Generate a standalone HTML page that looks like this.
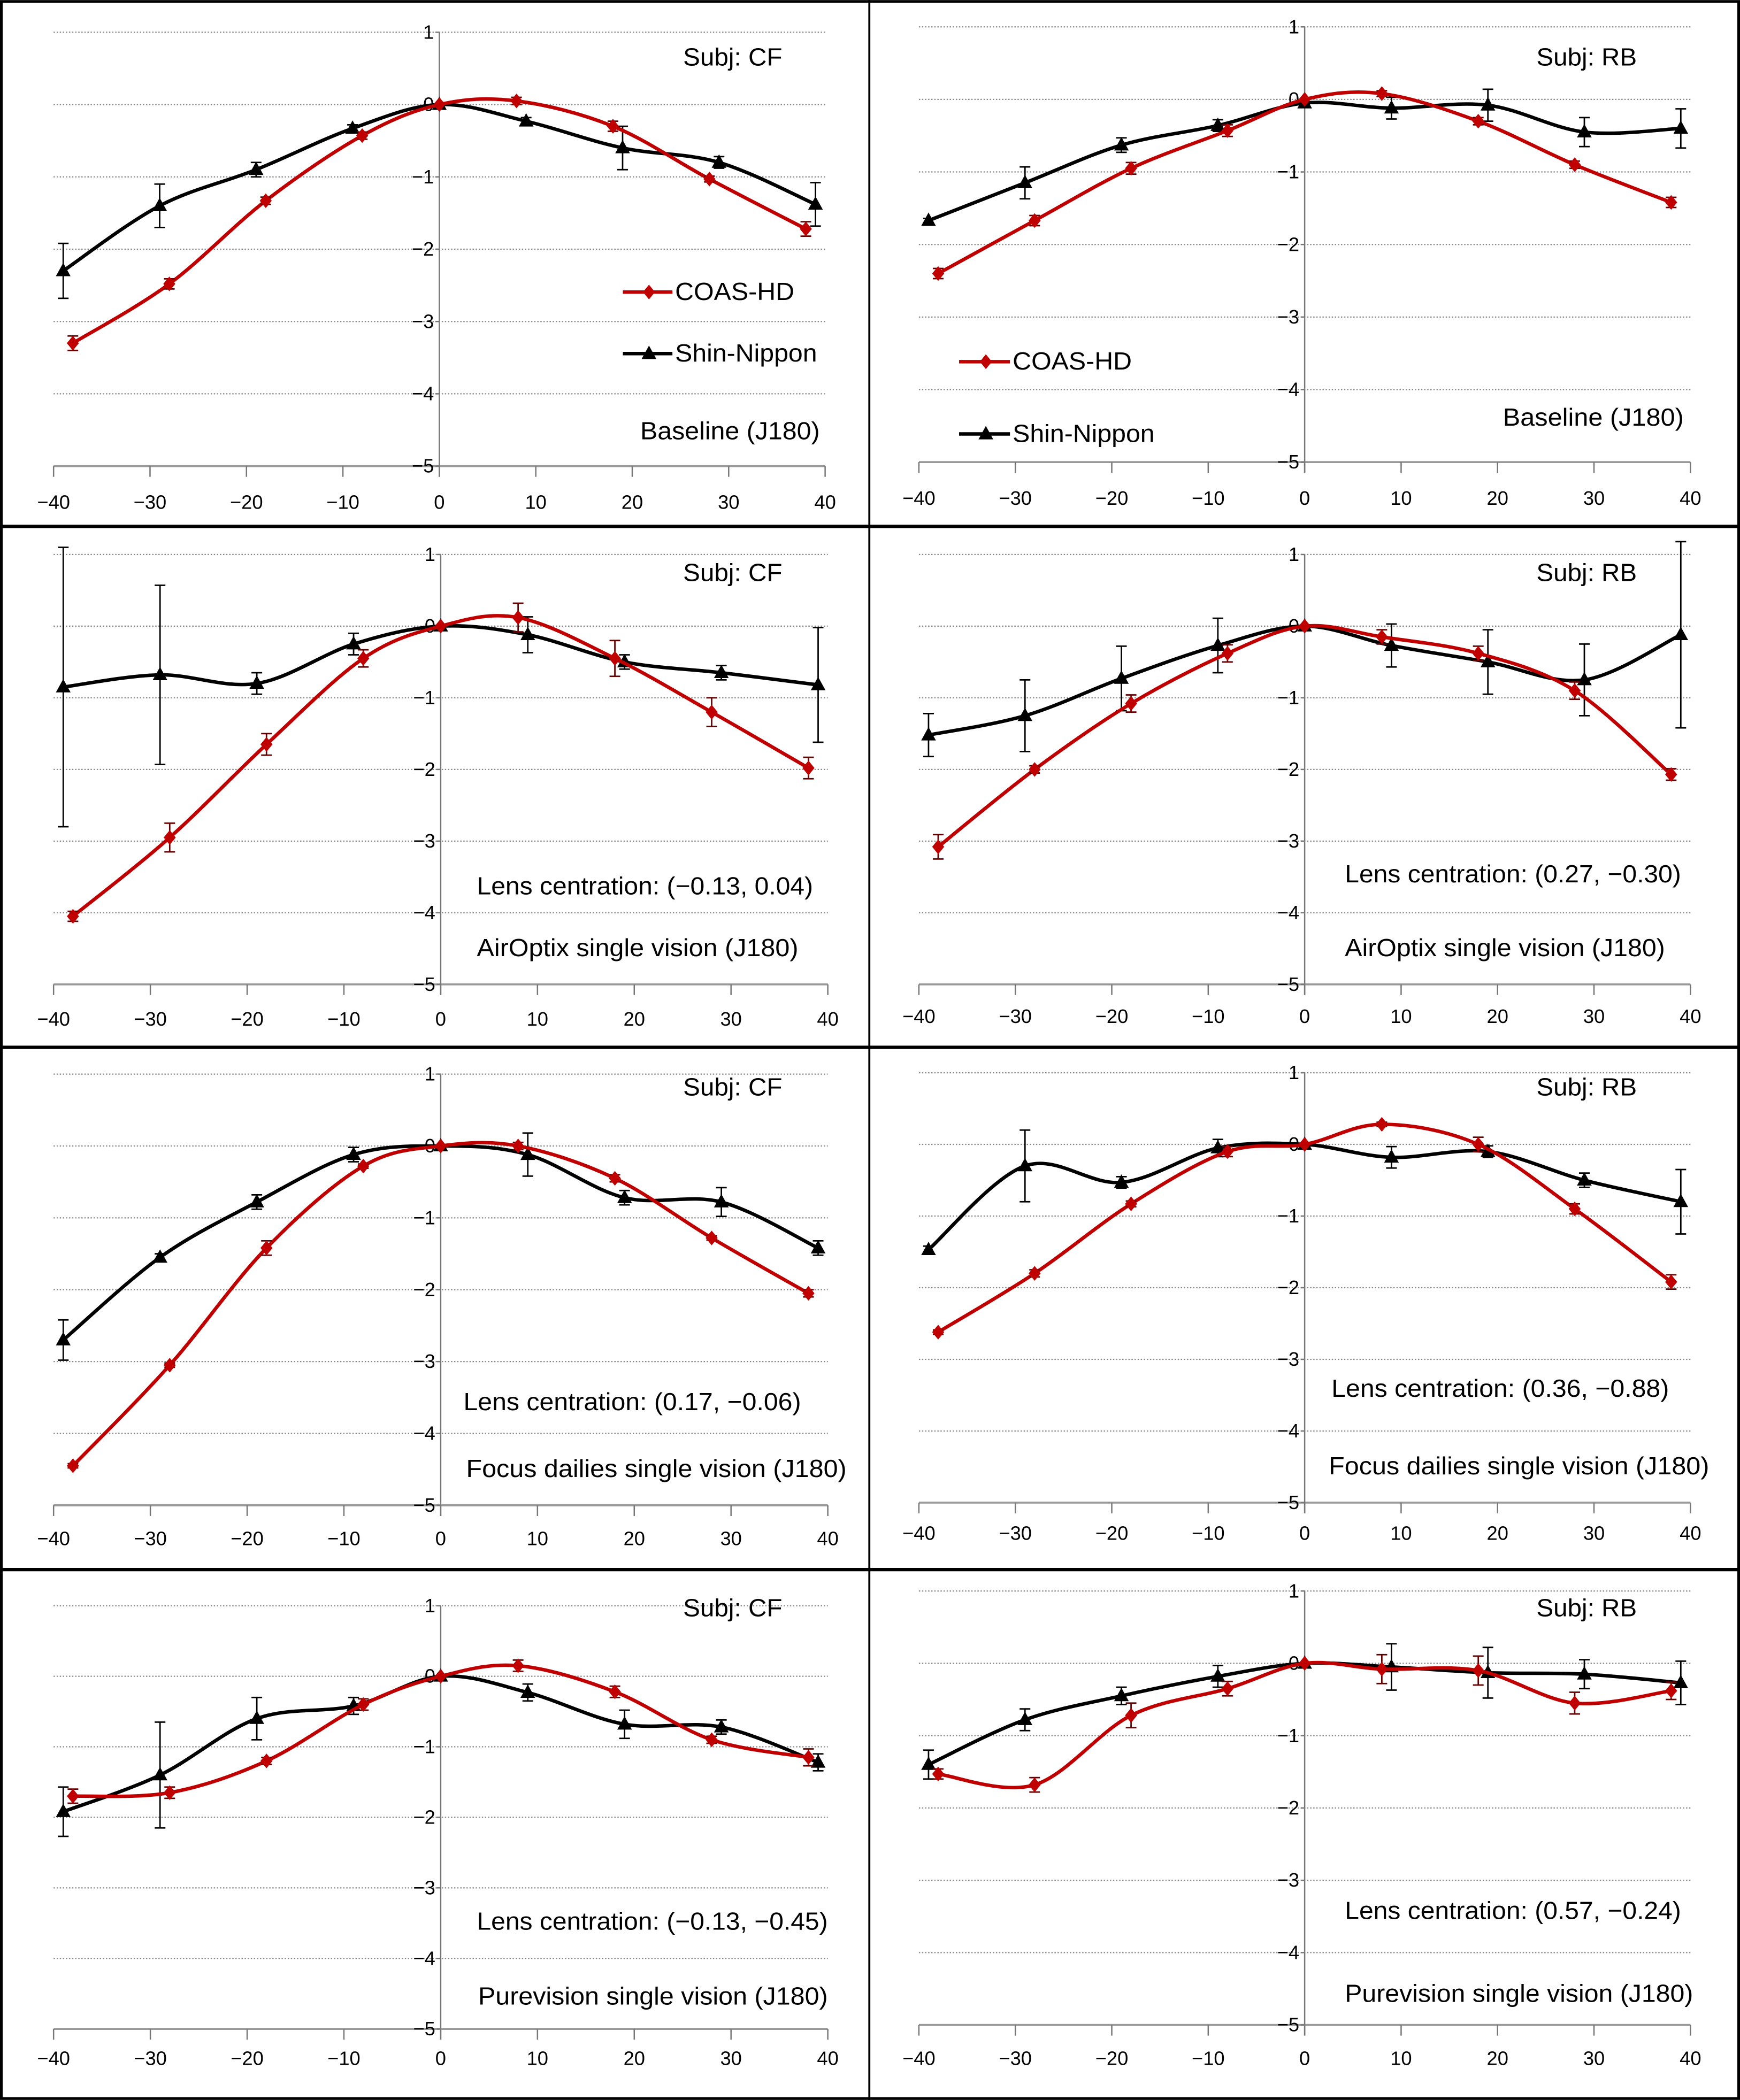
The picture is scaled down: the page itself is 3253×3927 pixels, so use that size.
<!DOCTYPE html>
<html><head><meta charset="utf-8"><style>
html,body{margin:0;padding:0;background:#fff}
svg{display:block}
text{font-family:"Liberation Sans",Arial,sans-serif;fill:#000}
</style></head><body>
<svg id="chart" width="3253" height="3927" viewBox="0 0 1299 1568" xmlns="http://www.w3.org/2000/svg">
<rect x="0" y="0" width="1299" height="1568" fill="#fff"/>
<g id="frame" stroke="#000" fill="none">
<rect x="1" y="1" width="1297" height="1566" stroke-width="2"/>
<line x1="649" y1="0" x2="649" y2="1568" stroke-width="1.5"/>
<line x1="0" y1="393" x2="1299" y2="393" stroke-width="2.5"/>
<line x1="0" y1="782" x2="1299" y2="782" stroke-width="2.5"/>
<line x1="0" y1="1172" x2="1299" y2="1172" stroke-width="2.5"/>
</g>
</svg>
<script>
const redX = [-38,-28,-18,-8,0,8,18,28,38];
const blkX = [-39,-29,-19,-9,0,9,19,29,39];
const xTicks = [-40,-30,-20,-10,0,10,20,30,40];
const yTicks = [1,0,-1,-2,-3,-4,-5];

const cfBaseRed = [-3.3,-2.48,-1.33,-0.43,0,0.05,-0.3,-1.03,-1.72];
const cfBaseRedErr = [0.1,0.07,0.05,0.05,0,0.05,0.07,0.04,0.1];
const cfBaseBlk = [-2.3,-1.4,-0.9,-0.33,0,-0.23,-0.6,-0.8,-1.38];
const cfBaseBlkErr = [0.38,0.3,0.1,0.05,0,0.05,0.3,0.08,0.3];

const rbBaseRed = [-2.4,-1.67,-0.95,-0.43,0,0.08,-0.3,-0.9,-1.42];
const rbBaseRedErr = [0.07,0.07,0.08,0.08,0,0.04,0.05,0.05,0.07];
const rbBaseBlk = [-1.67,-1.15,-0.63,-0.36,-0.05,-0.12,-0.08,-0.45,-0.4];
const rbBaseBlkErr = [0.03,0.22,0.1,0.08,0.05,0.15,0.22,0.2,0.27];

const cfAirRed = [-4.05,-2.95,-1.65,-0.45,0,0.12,-0.45,-1.2,-1.98];
const cfAirRedErr = [0.07,0.2,0.15,0.12,0,0.2,0.25,0.2,0.15];
const cfAirBlk = [-0.85,-0.68,-0.8,-0.25,0,-0.12,-0.5,-0.65,-0.82];
const cfAirBlkErr = [1.95,1.25,0.15,0.15,0,0.25,0.1,0.1,0.8];

const rbAirRed = [-3.08,-2.0,-1.08,-0.38,0,-0.15,-0.38,-0.9,-2.07];
const rbAirRedErr = [0.17,0.05,0.12,0.12,0,0.1,0.1,0.12,0.08];
const rbAirBlk = [-1.52,-1.25,-0.73,-0.27,0,-0.27,-0.5,-0.75,-0.12];
const rbAirBlkErr = [0.3,0.5,0.45,0.38,0,0.3,0.45,0.5,1.3];

const cfFocRed = [-4.45,-3.05,-1.42,-0.28,0,0,-0.45,-1.28,-2.05];
const cfFocRedErr = [0.03,0.03,0.1,0.03,0,0.05,0.05,0.03,0.05];
const cfFocBlk = [-2.7,-1.55,-0.78,-0.12,0,-0.12,-0.72,-0.78,-1.42];
const cfFocBlkErr = [0.28,0.05,0.1,0.1,0,0.3,0.1,0.2,0.1];

const rbFocRed = [-2.62,-1.8,-0.83,-0.1,0,0.28,0,-0.9,-1.92];
const rbFocRedErr = [0.03,0.05,0.04,0.07,0,0.03,0.1,0.07,0.1];
const rbFocBlk = [-1.47,-0.3,-0.53,-0.05,0,-0.18,-0.1,-0.5,-0.8];
const rbFocBlkErr = [0.05,0.5,0.08,0.12,0,0.15,0.08,0.1,0.45];

const cfPurRed = [-1.7,-1.65,-1.2,-0.4,0,0.15,-0.22,-0.9,-1.15];
const cfPurRedErr = [0.1,0.08,0.05,0.08,0,0.08,0.08,0.05,0.12];
const cfPurBlk = [-1.92,-1.4,-0.6,-0.42,0,-0.23,-0.68,-0.72,-1.22];
const cfPurBlkErr = [0.35,0.75,0.3,0.12,0,0.12,0.2,0.1,0.12];

const rbPurRed = [-1.53,-1.68,-0.72,-0.35,0,-0.08,-0.1,-0.55,-0.38];
const rbPurRedErr = [0.07,0.1,0.17,0.1,0,0.2,0.2,0.15,0.12];
const rbPurBlk = [-1.4,-0.78,-0.45,-0.18,0,-0.05,-0.13,-0.15,-0.27];
const rbPurBlkErr = [0.2,0.15,0.12,0.15,0,0.32,0.35,0.2,0.3];

const NS = "http://www.w3.org/2000/svg";
const svg = document.getElementById('chart');
function mk(tag, attrs, parent){const e=document.createElementNS(NS,tag);for(const k in attrs)e.setAttribute(k,attrs[k]);(parent||svg).appendChild(e);return e;}

// labels: [text, left x, right x, y]
const panels = [
 {name:'cf-baseline',x0:40,x1:616,y1:24,y5:348,red:cfBaseRed,re:cfBaseRedErr,blk:cfBaseBlk,be:cfBaseBlkErr,xl:376,
  labels:[['Subj: CF',510,584,44],['Baseline (J180)',478,612,323]],legend:[465,504,218,264]},
 {name:'rb-baseline',x0:686,x1:1262,y1:20,y5:345,red:rbBaseRed,re:rbBaseRedErr,blk:rbBaseBlk,be:rbBaseBlkErr,xl:373,
  labels:[['Subj: RB',1147,1222,44],['Baseline (J180)',1122,1257,313]],legend:[716,756,270,324]},
 {name:'cf-airoptix',x0:40,x1:618,y1:414,y5:735,red:cfAirRed,re:cfAirRedErr,blk:cfAirBlk,be:cfAirBlkErr,xl:762,
  labels:[['Subj: CF',510,584,429],['Lens centration: (\u22120.13, 0.04)',356,607,663],['AirOptix single vision (J180)',356,596,709]]},
 {name:'rb-airoptix',x0:686,x1:1262,y1:414,y5:735,red:rbAirRed,re:rbAirRedErr,blk:rbAirBlk,be:rbAirBlkErr,xl:760,
  labels:[['Subj: RB',1147,1222,429],['Lens centration: (0.27, \u22120.30)',1004,1255,654],['AirOptix single vision (J180)',1004,1243,709]]},
 {name:'cf-focus',x0:40,x1:618,y1:802,y5:1124,red:cfFocRed,re:cfFocRedErr,blk:cfFocBlk,be:cfFocBlkErr,xl:1150,
  labels:[['Subj: CF',510,584,813],['Lens centration: (0.17, \u22120.06)',346,598,1048],['Focus dailies single vision (J180)',348,632,1098]]},
 {name:'rb-focus',x0:686,x1:1262,y1:801,y5:1122,red:rbFocRed,re:rbFocRedErr,blk:rbFocBlk,be:rbFocBlkErr,xl:1146,
  labels:[['Subj: RB',1147,1222,813],['Lens centration: (0.36, \u22120.88)',994,1246,1038],['Focus dailies single vision (J180)',992,1276,1096]]},
 {name:'cf-purevision',x0:40,x1:618,y1:1199,y5:1515,red:cfPurRed,re:cfPurRedErr,blk:cfPurBlk,be:cfPurBlkErr,xl:1538,
  labels:[['Subj: CF',510,584,1202],['Lens centration: (\u22120.13, \u22120.45)',356,618,1436],['Purevision single vision (J180)',357,618,1492]]},
 {name:'rb-purevision',x0:686,x1:1262,y1:1188,y5:1512,red:rbPurRed,re:rbPurRedErr,blk:rbPurBlk,be:rbPurBlkErr,xl:1538,
  labels:[['Subj: RB',1147,1222,1202],['Lens centration: (0.57, \u22120.24)',1004,1255,1428],['Purevision single vision (J180)',1004,1264,1490]]}
];

function smooth(pts){
  let d='M'+pts[0][0]+','+pts[0][1];
  for(let i=0;i<pts.length-1;i++){
    const p0=pts[Math.max(0,i-1)],p1=pts[i],p2=pts[i+1],p3=pts[Math.min(pts.length-1,i+2)];
    const c1=[p1[0]+(p2[0]-p0[0])/6,p1[1]+(p2[1]-p0[1])/6];
    const c2=[p2[0]-(p3[0]-p1[0])/6,p2[1]-(p3[1]-p1[1])/6];
    d+=' C'+c1[0]+','+c1[1]+' '+c2[0]+','+c2[1]+' '+p2[0]+','+p2[1];
  }
  return d;
}

panels.forEach(p=>{
  const g=mk('g',{});
  
  
  const xs=v=>p.x0+(v+40)/80*(p.x1-p.x0);
  const ys=v=>p.y1+(1-v)/6*(p.y5-p.y1);
  const ax=xs(0);
  const xaxis=mk('line',{x1:p.x0,x2:p.x1,y1:ys(-5),y2:ys(-5),stroke:'#999','stroke-width':1.5},g);
  
  
  xTicks.forEach(t=>{
    mk('line',{x1:xs(t),x2:xs(t),y1:ys(-5),y2:ys(-5)+8,stroke:'#777','stroke-width':1},g);
    const tx=mk('text',{x:xs(t),y:p.xl,'text-anchor':'middle','dominant-baseline':'middle','font-size':14.5},g);
    
    
    tx.textContent=t<0?'\u2212'+(-t):String(t);
  });
  yTicks.forEach(t=>{
    if(t!==-5){
      const l=mk('line',{x1:p.x0,x2:p.x1,y1:ys(t),y2:ys(t),stroke:'#888','stroke-width':0.9,'stroke-dasharray':'1,1.3'},g);
      
      
    }
    const tx=mk('text',{x:ax-4,y:ys(t)+1,'text-anchor':'end','dominant-baseline':'middle','font-size':14.5},g);
    
    
    tx.textContent=t<0?'\u2212'+(-t):String(t);
    mk('line',{x1:ax,x2:ax-3,y1:ys(t),y2:ys(t),stroke:'#777','stroke-width':1},g);
  });
  const yaxis=mk('line',{x1:ax,x2:ax,y1:ys(1),y2:ys(-5)+8,stroke:'#777','stroke-width':1},g);
  
  
  [['shin-nippon',p.blk,p.be,'#000',blkX],['coas-hd',p.red,p.re,'#c00000',redX]].forEach(s=>{
    const [nm,vals,errs,col,xv]=s;
    const pts=vals.map((v,i)=>[xs(xv[i]),ys(v)]);
    const path=mk('path',{d:smooth(pts),fill:'none',stroke:col,'stroke-width':2.6},g);
    
    
    vals.forEach((v,i)=>{
      const x=xs(xv[i]),y=ys(v),e=errs[i]*(p.y5-p.y1)/6;
      if(e>0){
        const eb=mk('path',{d:`M${x},${y-e}V${y+e}M${x-4},${y-e}H${x+4}M${x-4},${y+e}H${x+4}`,stroke:nm==='coas-hd'?'#600':'#000','stroke-width':1.1,fill:'none'},g);
        
        
      }
      let m;
      if(nm==='coas-hd') m=mk('path',{d:`M${x},${y-5.5}L${x+4.5},${y}L${x},${y+5.5}L${x-4.5},${y}Z`,fill:col},g);
      else m=mk('path',{d:`M${x},${y-6}L${x+5.5},${y+4}L${x-5.5},${y+4}Z`,fill:col},g);
      
      
    });
  });
  p.labels.forEach(l=>{
    const tx=mk('text',{x:l[1],y:l[3],'text-anchor':'start','dominant-baseline':'middle','font-size':18.5,textLength:l[2]-l[1],lengthAdjust:'spacingAndGlyphs'},g);
    
    
    tx.textContent=l[0];
  });
  if(p.legend){
    const [lx,tx0,yA,yB]=p.legend;
    [['COAS-HD','#c00000',yA,'coas-hd',89],['Shin-Nippon','#000',yB,'shin-nippon',106]].forEach(e=>{
      const lg=mk('g',{},g);
      
      
      mk('line',{x1:lx,x2:tx0-2,y1:e[2],y2:e[2],stroke:e[1],'stroke-width':2.6},lg);
      const cx=(lx+tx0)/2;
      if(e[3]==='coas-hd') mk('path',{d:`M${cx},${e[2]-5.5}L${cx+4.5},${e[2]}L${cx},${e[2]+5.5}L${cx-4.5},${e[2]}Z`,fill:e[1]},lg);
      else mk('path',{d:`M${cx},${e[2]-6}L${cx+5.5},${e[2]+4}L${cx-5.5},${e[2]+4}Z`,fill:e[1]},lg);
      const t=mk('text',{x:tx0,y:e[2]+1,'dominant-baseline':'middle','font-size':18.5,textLength:e[4],lengthAdjust:'spacingAndGlyphs'},lg);
      t.textContent=e[0];
    });
  }
});
</script>
</body></html>
